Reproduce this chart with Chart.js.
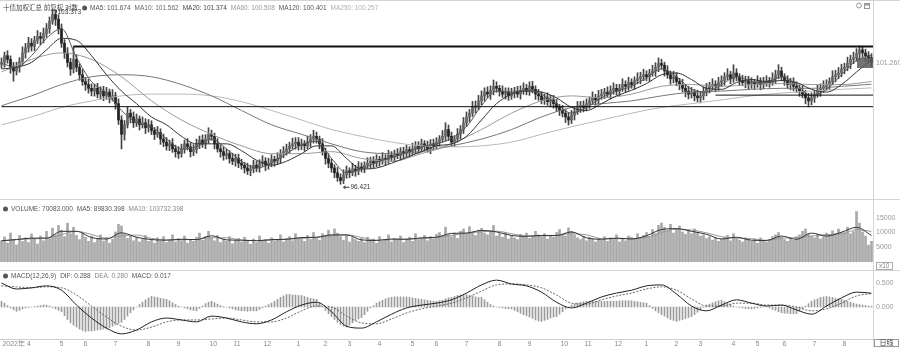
<!DOCTYPE html>
<html lang="zh-CN">
<head>
<meta charset="utf-8">
<title>十债加权汇总 日线</title>
<script src="https://cdn.jsdelivr.net/npm/chart.js"></script>
<style>
  html, body { margin: 0; padding: 0; background: #fff; }
  #board { position: relative; width: 900px; height: 347px; overflow: hidden; }
  #board canvas { position: absolute; left: 0; }
</style>
</head>
<body>
<div id="board">
  <canvas id="priceChart" width="900" height="199" style="top:0"></canvas>
  <canvas id="volChart" width="900" height="71" style="top:199px"></canvas>
  <canvas id="macdChart" width="900" height="77" style="top:270px"></canvas>
</div>
<script>
// 十债加权 日线：K线 + 均线 / 成交量 / MACD
const titleText = '十债加权汇总 前复权 对数';

const openP = [
  101.20,101.27,101.54,101.39,101.08,100.93,101.08,101.31,101.65,101.85,
  102.04,101.92,102.15,102.30,102.23,102.42,102.61,102.91,103.18,102.99,
  102.61,102.04,101.65,101.27,101.01,101.39,101.08,100.78,100.51,100.39,
  100.24,100.13,100.24,100.01,100.13,99.94,100.09,99.86,99.94,99.63,
  98.98,98.41,98.79,99.25,99.10,98.87,99.02,98.79,98.87,98.67,
  98.79,98.56,98.41,98.48,98.22,98.10,97.95,98.03,97.83,97.72,
  97.64,97.83,98.03,97.91,97.72,97.80,98.03,98.18,98.03,98.22,
  98.41,98.33,98.03,97.83,97.72,97.57,97.64,97.45,97.34,97.45,
  97.26,97.18,97.07,96.96,97.03,97.18,97.07,97.26,97.34,97.18,
  97.26,97.41,97.34,97.45,97.64,97.72,97.83,97.95,98.03,98.10,
  97.95,98.03,97.95,98.10,98.22,98.33,98.22,98.03,97.72,97.45,
  97.26,97.07,96.88,96.69,96.57,96.80,96.96,96.88,97.03,96.96,
  97.11,97.07,97.18,97.26,97.34,97.26,97.41,97.34,97.45,97.41,
  97.57,97.49,97.64,97.57,97.72,97.64,97.80,97.72,97.83,97.95,
  97.83,98.03,97.95,97.83,98.03,97.95,98.10,98.22,98.33,98.60,
  98.33,98.10,98.22,98.41,98.60,98.87,99.10,99.25,99.48,99.55,
  99.74,99.94,100.09,100.01,100.16,100.32,100.24,100.13,100.01,100.09,
  99.94,100.05,100.13,100.01,100.16,100.24,100.13,100.32,100.20,100.01,
  99.94,99.78,99.86,99.71,99.78,99.63,99.48,99.36,99.25,99.10,
  98.98,99.17,99.32,99.48,99.55,99.48,99.63,99.74,99.86,99.78,
  99.94,100.01,100.09,100.01,100.16,100.24,100.13,100.24,100.39,100.32,
  100.47,100.39,100.55,100.62,100.70,100.78,100.70,100.85,100.93,101.08,
  101.23,101.16,100.93,100.78,100.62,100.70,100.51,100.39,100.24,100.13,
  100.01,100.09,99.94,99.86,99.94,100.09,100.24,100.32,100.39,100.32,
  100.47,100.55,100.70,100.78,100.62,100.85,100.70,100.55,100.47,100.55,
  100.39,100.47,100.39,100.51,100.39,100.47,100.55,100.47,100.62,100.78,
  100.93,100.70,100.55,100.39,100.47,100.32,100.24,100.13,100.01,99.86,
  99.74,99.86,100.01,100.13,100.24,100.32,100.39,100.51,100.70,100.78,
  100.85,101.01,101.08,101.23,101.39,101.46,101.62,101.77,101.65,101.54,
  101.46
];
const highP = [
  101.45,101.68,101.74,101.53,101.27,101.28,101.46,101.89,102.03,102.27,
  102.22,102.31,102.54,102.46,102.64,102.82,103.08,103.373,103.33,103.17,
  102.80,102.18,101.86,101.43,101.90,101.58,101.21,100.99,100.68,100.60,
  100.42,100.41,100.44,100.30,100.32,100.28,100.21,100.19,100.08,99.82,
  99.15,98.96,99.49,99.40,99.30,99.22,99.14,99.10,99.03,99.00,
  98.95,98.68,98.72,98.63,98.42,98.28,98.18,98.24,97.98,97.92,
  98.02,98.18,98.24,98.06,98.00,98.22,98.34,98.39,98.40,98.67,
  98.58,98.46,98.24,97.98,97.90,97.82,97.76,97.66,97.62,97.62,
  97.42,97.30,97.26,97.18,97.38,97.34,97.40,97.56,97.48,97.46,
  97.60,97.54,97.68,97.80,97.92,98.02,98.10,98.26,98.28,98.28,
  98.22,98.16,98.34,98.40,98.57,98.50,98.34,98.24,97.86,97.64,
  97.42,97.20,97.09,96.84,97.00,97.15,97.08,97.26,97.18,97.32,
  97.28,97.32,97.48,97.50,97.52,97.60,97.54,97.68,97.60,97.78,
  97.72,97.78,97.84,97.88,97.90,97.98,97.92,98.06,98.12,98.12,
  98.22,98.16,98.14,98.20,98.22,98.28,98.36,98.56,98.87,98.78,
  98.50,98.36,98.64,98.76,99.08,99.30,99.40,99.72,99.74,99.96,
  100.14,100.26,100.30,100.34,100.57,100.50,100.36,100.34,100.26,100.26,
  100.24,100.28,100.32,100.34,100.46,100.40,100.50,100.52,100.34,100.20,
  100.10,100.01,100.06,99.96,99.96,99.80,99.60,99.56,99.40,99.28,
  99.36,99.48,99.72,99.72,99.74,99.82,99.90,100.10,100.00,100.16,
  100.20,100.24,100.30,100.34,100.46,100.40,100.40,100.62,100.54,100.68,
  100.62,100.70,100.86,100.88,101.00,100.94,101.00,101.16,101.26,101.45,
  101.40,101.28,101.14,100.93,100.92,100.86,100.64,100.60,100.38,100.32,
  100.28,100.20,100.16,100.12,100.30,100.44,100.48,100.62,100.54,100.68,
  100.74,100.86,101.02,100.92,101.18,101.02,100.82,100.76,100.72,100.72,
  100.66,100.60,100.74,100.66,100.68,100.74,100.68,100.86,100.96,101.18,
  101.08,100.82,100.74,100.64,100.66,100.50,100.36,100.34,100.16,100.04,
  100.06,100.16,100.36,100.42,100.54,100.58,100.66,100.94,100.96,101.07,
  101.20,101.24,101.48,101.56,101.68,101.82,101.93,101.92,101.80,101.70,
  101.62
];
const lowP = [
  101.04,101.08,101.24,100.84,100.52,100.77,100.88,101.19,101.44,101.68,
  101.72,101.74,102.02,101.98,102.05,102.27,102.43,102.79,102.74,102.40,
  101.87,101.43,101.09,100.76,100.85,100.90,100.56,100.36,100.16,100.05,
  99.94,99.93,99.86,99.81,99.75,99.80,99.66,99.74,99.41,98.80,
  97.83,98.18,98.66,98.86,98.68,98.72,98.58,98.66,98.44,98.50,
  98.40,98.20,98.29,98.01,97.92,97.78,97.76,97.69,97.50,97.45,
  97.50,97.66,97.78,97.51,97.56,97.66,97.84,97.89,97.84,98.05,
  98.17,97.83,97.70,97.50,97.38,97.42,97.26,97.20,97.14,97.08,
  97.02,96.87,96.81,96.76,96.88,96.92,96.90,97.14,96.96,97.02,
  97.12,97.14,97.22,97.26,97.48,97.58,97.66,97.82,97.82,97.78,
  97.80,97.74,97.84,97.90,98.06,98.06,97.83,97.58,97.22,97.08,
  96.90,96.68,96.54,96.421,96.45,96.66,96.68,96.76,96.74,96.80,
  96.91,96.88,97.06,97.06,97.08,97.12,97.14,97.22,97.20,97.25,
  97.34,97.32,97.44,97.38,97.46,97.50,97.53,97.60,97.64,97.66,
  97.70,97.76,97.70,97.64,97.78,97.82,97.92,98.10,98.14,98.16,
  97.94,97.92,98.10,98.21,98.44,98.72,98.90,99.12,99.26,99.38,
  99.58,99.74,99.86,99.80,99.98,100.08,99.93,99.88,99.81,99.76,
  99.80,99.86,99.88,99.81,100.00,99.98,99.96,100.06,99.80,99.76,
  99.62,99.60,99.56,99.50,99.45,99.32,99.16,99.10,98.88,98.78,
  98.84,98.98,99.20,99.28,99.30,99.34,99.44,99.62,99.56,99.62,
  99.80,99.83,99.88,99.82,100.00,99.98,99.94,100.12,100.10,100.16,
  100.24,100.20,100.42,100.42,100.54,100.54,100.52,100.72,100.72,100.90,
  101.00,100.73,100.64,100.40,100.46,100.34,100.18,100.10,99.90,99.82,
  99.86,99.74,99.70,99.66,99.78,99.94,100.06,100.20,100.10,100.16,
  100.32,100.36,100.58,100.42,100.48,100.54,100.36,100.34,100.26,100.22,
  100.24,100.20,100.28,100.18,100.22,100.32,100.28,100.36,100.42,100.62,
  100.54,100.36,100.24,100.18,100.14,100.08,99.92,99.86,99.62,99.50,
  99.58,99.68,99.88,99.92,100.08,100.18,100.20,100.38,100.50,100.62,
  100.70,100.82,100.94,101.02,101.22,101.32,101.43,101.50,101.32,101.28,
  101.10
];
const closeP = [
  101.27,101.54,101.39,101.08,100.93,101.08,101.31,101.65,101.85,102.04,
  101.92,102.15,102.30,102.23,102.42,102.61,102.91,103.18,102.99,102.61,
  102.04,101.65,101.27,101.01,101.39,101.08,100.78,100.51,100.39,100.24,
  100.13,100.24,100.01,100.13,99.94,100.09,99.86,99.94,99.63,98.98,
  98.41,98.79,99.25,99.10,98.87,99.02,98.79,98.87,98.67,98.79,
  98.56,98.41,98.48,98.22,98.10,97.95,98.03,97.83,97.72,97.64,
  97.83,98.03,97.91,97.72,97.80,98.03,98.18,98.03,98.22,98.41,
  98.33,98.03,97.83,97.72,97.57,97.64,97.45,97.34,97.45,97.26,
  97.18,97.07,96.96,97.03,97.18,97.07,97.26,97.34,97.18,97.26,
  97.41,97.34,97.45,97.64,97.72,97.83,97.95,98.03,98.10,97.95,
  98.03,97.95,98.10,98.22,98.33,98.22,98.03,97.72,97.45,97.26,
  97.07,96.88,96.69,96.57,96.80,96.96,96.88,97.03,96.96,97.11,
  97.07,97.18,97.26,97.34,97.26,97.41,97.34,97.45,97.41,97.57,
  97.49,97.64,97.57,97.72,97.64,97.80,97.72,97.83,97.95,97.83,
  98.03,97.95,97.83,98.03,97.95,98.10,98.22,98.33,98.60,98.33,
  98.10,98.22,98.41,98.60,98.87,99.10,99.25,99.48,99.55,99.74,
  99.94,100.09,100.01,100.16,100.32,100.24,100.13,100.01,100.09,99.94,
  100.05,100.13,100.01,100.16,100.24,100.13,100.32,100.20,100.01,99.94,
  99.78,99.86,99.71,99.78,99.63,99.48,99.36,99.25,99.10,98.98,
  99.17,99.32,99.48,99.55,99.48,99.63,99.74,99.86,99.78,99.94,
  100.01,100.09,100.01,100.16,100.24,100.13,100.24,100.39,100.32,100.47,
  100.39,100.55,100.62,100.70,100.78,100.70,100.85,100.93,101.08,101.23,
  101.16,100.93,100.78,100.62,100.70,100.51,100.39,100.24,100.13,100.01,
  100.09,99.94,99.86,99.94,100.09,100.24,100.32,100.39,100.32,100.47,
  100.55,100.70,100.78,100.62,100.85,100.70,100.55,100.47,100.55,100.39,
  100.47,100.39,100.51,100.39,100.47,100.55,100.47,100.62,100.78,100.93,
  100.70,100.55,100.39,100.47,100.32,100.24,100.13,100.01,99.86,99.74,
  99.86,100.01,100.13,100.24,100.32,100.39,100.51,100.70,100.78,100.85,
  101.01,101.08,101.23,101.39,101.46,101.62,101.77,101.65,101.54,101.46,
  101.26
];

// 均线：MA10/MA20 每5根取一点，MA60/MA120/MA250 每10根取一点
const ma10 = [
  101.23,101.08,101.54,102.23,102.61,101.46,100.51,100.05,99.36,98.87,
  98.71,98.22,97.83,97.91,98.22,97.83,97.34,97.07,97.26,97.64,
  97.99,98.14,97.45,96.88,97.03,97.30,97.49,97.68,97.91,98.03,
  98.25,98.71,99.55,100.13,100.09,100.16,100.01,99.63,99.25,99.48,
  99.86,100.13,100.32,100.66,101.01,100.70,100.20,100.09,100.39,100.70,
  100.51,100.47,100.70,100.39,99.94,100.20,100.78,101.35,101.562
];
const ma20 = [
  101.01,101.08,101.27,101.77,102.23,102.15,101.54,100.78,100.13,99.63,
  99.10,98.79,98.33,98.03,98.03,98.03,97.76,97.38,97.18,97.34,
  97.64,97.95,97.95,97.45,97.03,97.07,97.26,97.49,97.72,97.95,
  98.03,98.33,98.98,99.63,100.01,100.13,100.09,99.86,99.48,99.36,
  99.63,99.94,100.16,100.43,100.78,100.85,100.59,100.24,100.20,100.47,
  100.59,100.51,100.55,100.47,100.20,100.09,100.39,100.89,101.374
];
const ma60 = [100.89,101.39,101.65,101.39,100.70,99.74,98.98,98.41,97.95,97.64,97.64,97.72,97.45,97.34,97.64,
  98.03,98.60,99.25,99.74,99.94,99.86,100.01,100.32,100.39,100.32,100.39,100.43,100.39,100.39,100.508];
const ma120 = [99.55,99.94,100.39,100.70,100.78,100.70,100.39,99.94,99.36,98.79,98.41,98.03,97.72,97.64,97.72,
  97.95,98.22,98.60,99.10,99.48,99.63,99.74,99.94,100.09,100.13,100.20,100.24,100.24,100.32,100.401];
const ma250 = [98.79,99.10,99.48,99.74,99.94,100.01,100.01,99.94,99.71,99.36,98.98,98.60,98.33,98.10,97.95,
  97.91,97.95,98.10,98.41,98.71,98.98,99.25,99.48,99.63,99.78,99.94,100.05,100.13,100.20,100.257];
const ma5Last = 101.674;

// 画线位
const levelFrom = [24, 0, 238];
const levelPrice = [101.90, 99.51, 99.97];

const volume = [
  72000,85000,64000,98000,76000,58000,90000,70000,82000,66000,
  95000,78000,61000,88000,72000,104000,80000,115000,92000,124000,
  108000,86000,132000,96000,118000,90000,76000,98000,84000,70000,
  88000,66000,79000,92000,71000,83000,64000,77000,102000,128000,
  122000,95000,80000,88000,72000,84000,68000,76000,90000,70000,
  78000,64000,82000,70000,86000,66000,74000,92000,68000,80000,
  72000,88000,64000,76000,70000,84000,98000,74000,86000,104000,
  82000,72000,90000,66000,78000,70000,86000,62000,74000,80000,
  68000,84000,72000,60000,78000,66000,88000,70000,76000,64000,
  82000,70000,74000,92000,68000,80000,86000,72000,96000,78000,
  84000,70000,90000,76000,100000,82000,74000,96000,88000,108000,
  92000,112000,98000,86000,74000,90000,68000,82000,76000,70000,
  80000,66000,84000,72000,78000,64000,86000,70000,74000,92000,
  68000,80000,74000,88000,66000,78000,84000,70000,96000,76000,
  82000,90000,72000,86000,78000,94000,100000,88000,118000,92000,
  86000,98000,80000,104000,112000,96000,120000,102000,90000,108000,
  114000,98000,92000,106000,124000,88000,96000,84000,100000,78000,
  90000,82000,76000,94000,86000,98000,80000,88000,104000,92000,
  86000,96000,78000,90000,84000,100000,110000,94000,88000,116000,
  104000,92000,82000,76000,88000,72000,84000,78000,68000,80000,
  74000,86000,70000,82000,76000,92000,68000,80000,72000,88000,
  84000,78000,96000,82000,90000,100000,86000,110000,96000,124000,
  132000,118000,106000,128000,98000,114000,122000,102000,94000,108000,
  96000,112000,100000,88000,92000,80000,86000,74000,82000,70000,
  78000,84000,90000,72000,96000,80000,74000,68000,82000,76000,
  70000,78000,64000,82000,72000,68000,76000,86000,92000,100000,
  84000,76000,70000,80000,74000,86000,92000,104000,112000,96000,
  88000,82000,94000,78000,86000,98000,90000,106000,96000,112000,
  100000,100000,118000,96000,103000,171000,132000,102000,88000,57000,
  70083
];
const volMa5 = [
  72000,76000,81000,81000,104000,104000,83000,78000,99000,84000,
  76000,74000,77000,76000,89000,75000,74000,72000,76000,77000,
  83000,84000,92000,92000,75000,73000,78000,77000,82000,84000,
  97000,98000,107000,102000,90000,87000,90000,90000,102000,82000,
  77000,81000,78000,89000,110000,113000,104000,94000,78000,84000,
  74000,73000,88000,77000,98000,88000,101000,117600,89830.398
];
const volMa10 = [
  72000,76000,78500,81000,92500,104000,93500,80500,88500,91500,
  80000,75000,75500,76500,82500,82000,74500,73000,74000,76500,
  80000,83500,88000,92000,83500,74000,75500,77500,79500,83000,
  90500,97500,102500,104500,96000,88500,88500,90000,96000,92000,
  79500,79000,79500,83500,99500,111500,108500,99000,86000,81000,
  79000,73500,80500,82500,87500,93000,94500,109300,103732.398
];

// MACD(12,26,9)：DIF/DEA 每5根取一点，柱逐根
const dif = [
  0.50,0.375,0.40,0.44,0.35,0.04,-0.23,-0.44,-0.56,-0.48,
  -0.31,-0.23,-0.27,-0.31,-0.19,-0.23,-0.31,-0.35,-0.27,-0.10,
  0.04,0.10,-0.10,-0.40,-0.44,-0.31,-0.15,-0.02,0.04,0.08,
  0.15,0.29,0.46,0.56,0.48,0.44,0.31,0.10,-0.02,0.08,
  0.21,0.29,0.35,0.44,0.46,0.27,0.02,-0.08,0.04,0.15,
  0.08,0.02,0.04,-0.06,-0.15,0.02,0.19,0.31,0.288
];
const dea = [
  0.44,0.42,0.40,0.42,0.40,0.25,0.02,-0.21,-0.40,-0.48,
  -0.42,-0.31,-0.27,-0.27,-0.25,-0.23,-0.27,-0.31,-0.31,-0.23,
  -0.08,0.02,0.00,-0.19,-0.33,-0.35,-0.25,-0.125,-0.04,0.02,
  0.08,0.19,0.33,0.46,0.48,0.46,0.40,0.25,0.08,0.06,
  0.15,0.23,0.29,0.375,0.42,0.35,0.17,0.02,0.02,0.08,
  0.08,0.04,0.04,0.00,-0.08,-0.04,0.08,0.23,0.280
];
const macdHist = [
  0.12,0.08,0.03,-0.02,-0.06,-0.09,-0.07,-0.04,-0.02,-0.01,
  0.00,0.01,0.02,0.03,0.04,0.04,0.02,-0.01,-0.04,-0.07,
  -0.10,-0.18,-0.26,-0.33,-0.38,-0.42,-0.46,-0.49,-0.51,-0.50,
  -0.50,-0.49,-0.48,-0.47,-0.46,-0.46,-0.43,-0.40,-0.37,-0.34,
  -0.32,-0.26,-0.19,-0.12,-0.06,0.00,0.05,0.10,0.15,0.19,
  0.22,0.21,0.20,0.18,0.17,0.16,0.13,0.09,0.05,0.02,
  0.00,-0.02,-0.04,-0.06,-0.07,-0.08,-0.03,0.02,0.07,0.10,
  0.12,0.09,0.06,0.03,0.01,0.00,-0.02,-0.04,-0.06,-0.07,
  -0.08,-0.08,-0.09,-0.08,-0.08,-0.08,-0.05,-0.02,0.02,0.05,
  0.08,0.12,0.16,0.20,0.23,0.26,0.26,0.25,0.25,0.24,
  0.24,0.22,0.20,0.18,0.17,0.16,0.09,0.01,-0.07,-0.14,
  -0.20,-0.26,-0.32,-0.37,-0.40,-0.42,-0.38,-0.33,-0.28,-0.25,
  -0.22,-0.16,-0.09,-0.02,0.03,0.08,0.11,0.14,0.17,0.19,
  0.20,0.21,0.21,0.21,0.21,0.21,0.20,0.19,0.18,0.17,
  0.16,0.15,0.14,0.13,0.12,0.12,0.13,0.14,0.17,0.19,
  0.20,0.22,0.24,0.25,0.26,0.26,0.24,0.23,0.21,0.20,
  0.20,0.15,0.10,0.05,0.02,0.00,-0.01,-0.02,-0.03,-0.04,
  -0.04,-0.07,-0.10,-0.13,-0.16,-0.18,-0.21,-0.24,-0.27,-0.29,
  -0.30,-0.28,-0.26,-0.23,-0.21,-0.20,-0.15,-0.10,-0.04,0.00,
  0.04,0.06,0.08,0.10,0.11,0.12,0.12,0.12,0.12,0.12,
  0.12,0.12,0.12,0.12,0.12,0.12,0.13,0.13,0.13,0.13,
  0.13,0.12,0.11,0.10,0.09,0.08,0.03,-0.03,-0.08,-0.12,
  -0.16,-0.19,-0.23,-0.26,-0.28,-0.30,-0.28,-0.26,-0.24,-0.22,
  -0.20,-0.16,-0.11,-0.06,-0.01,0.04,0.06,0.09,0.11,0.13,
  0.14,0.11,0.08,0.05,0.02,0.00,-0.01,-0.02,-0.03,-0.04,
  -0.04,-0.03,-0.02,-0.01,0.00,0.00,-0.02,-0.05,-0.07,-0.10,
  -0.12,-0.13,-0.13,-0.14,-0.14,-0.14,-0.09,-0.04,0.02,0.07,
  0.12,0.15,0.17,0.20,0.21,0.22,0.21,0.20,0.18,0.17,
  0.16,0.14,0.12,0.10,0.08,0.06,0.05,0.04,0.03,0.02,
  0.017
];

// 月份起点（K线序号）
const monthStart = [0,19,27,37,48,58,69,77,87,98,107,115,125,136,144,154,165,175,186,194,204,214,224,232,243,251,260,270,280];
const monthText = ['2022年 4','5','6','7','8','9','10','11','12','1','2','3','4','5','6','7','8','9','10','11','12','1','2','3','4','5','6','7','8'];

const N = closeP.length;
const FONT = "'Liberation Sans', 'Noto Sans CJK SC', sans-serif";
const RIGHT_W = 27;
const last = a => a[a.length - 1];

Chart.defaults.font.family = FONT;
Chart.defaults.font.size = 7;
Chart.defaults.animation = false;
Chart.defaults.responsive = false;
Chart.defaults.devicePixelRatio = 1;
Chart.defaults.events = [];
Chart.defaults.plugins.legend.display = false;
Chart.defaults.plugins.tooltip.enabled = false;

const spans = (a, b) => a.map((v, i) => ({x: i, y: [v, b[i]]}));
const sampled = (vals, step) => vals.map((v, k) => ({x: k * step, y: v}));
const perBar = vals => vals.map((v, i) => ({x: i, y: v}));

function timeAxis(show) {
  return {
    type: 'linear', min: -0.5, max: N - 0.5, offset: false, display: show,
    grid: {display: false, drawTicks: false},
    border: {display: show, color: '#cfcfcf'},
    afterBuildTicks: s => { s.ticks = monthStart.map(v => ({value: v + 0.3})); },
    afterFit: s => { s.height = 8; s.paddingLeft = 0; s.paddingRight = 0; },
    ticks: {
      autoSkip: false, maxRotation: 0, minRotation: 0, align: 'start', padding: 1,
      color: '#8a8a8a', font: {size: 7},
      callback: (v, i) => monthText[i]
    }
  };
}

// 右侧数值轴：固定宽度，不为首末标签留边
function valueAxis(min, max, marks, fmt) {
  return {
    position: 'right', min, max,
    grid: {display: false, drawTicks: false}, border: {display: false},
    afterBuildTicks: s => { s.ticks = marks.map(v => ({value: v})); },
    afterFit: s => { s.width = RIGHT_W; s.paddingTop = 0; s.paddingBottom = 0; },
    ticks: {padding: 3, color: '#9a9a9a', font: {size: 7}, callback: fmt}
  };
}

function maLine(label, pts, color, order) {
  return {
    type: 'line', label, data: pts, borderColor: color, borderWidth: 1,
    pointRadius: 0, cubicInterpolationMode: 'monotone', order
  };
}

function frame(chart, withTop) {
  const {ctx, chartArea: a} = chart;
  ctx.save();
  ctx.strokeStyle = '#d4d4d4';
  ctx.lineWidth = 1;
  ctx.beginPath();
  ctx.moveTo(a.right + 0.5, 0);
  ctx.lineTo(a.right + 0.5, chart.height);
  if (withTop) {
    ctx.moveTo(0, 0.5);
    ctx.lineTo(chart.width, 0.5);
  }
  ctx.stroke();
  ctx.restore();
}

function legendRow(ctx, x, y, parts) {
  ctx.font = `6.5px ${FONT}`;
  ctx.textBaseline = 'middle';
  ctx.textAlign = 'left';
  for (const [text, color] of parts) {
    if (text === '●') {
      ctx.fillStyle = '#555';
      ctx.beginPath();
      ctx.arc(x + 2.5, y, 2.5, 0, Math.PI * 2);
      ctx.fill();
      x += 8;
      continue;
    }
    ctx.fillStyle = color;
    ctx.fillText(text, x, y);
    x += ctx.measureText(text).width + 4;
  }
}

const priceText = {
  id: 'priceText',
  afterDraw(chart) {
    const {ctx, chartArea: a} = chart;
    const xs = chart.scales.x, ys = chart.scales.y;
    frame(chart, true);
    ctx.save();
    legendRow(ctx, 3, 8, [
      [titleText, '#444'], ['●'],
      ['MA5: ' + ma5Last.toFixed(3), '#555'],
      ['MA10: ' + last(ma10).toFixed(3), '#666'],
      ['MA20: ' + last(ma20).toFixed(3), '#444'],
      ['MA60: ' + last(ma60).toFixed(3), '#999'],
      ['MA120: ' + last(ma120).toFixed(3), '#555'],
      ['MA250: ' + last(ma250).toFixed(3), '#b0b0b0']
    ]);

    // 最高价标注
    const hi = highP.indexOf(Math.max(...highP));
    let px = xs.getPixelForValue(hi), py = ys.getPixelForValue(highP[hi]);
    ctx.strokeStyle = '#333';
    ctx.lineWidth = 1;
    ctx.beginPath();
    ctx.moveTo(px + 1, py + 0.5);
    ctx.lineTo(px + 4, py + 0.5);
    ctx.lineTo(px + 4, py + 3);
    ctx.stroke();
    ctx.fillStyle = '#333';
    ctx.fillText(highP[hi].toFixed(3), px + 5, py + 3);

    // 最低价标注
    const lo = lowP.indexOf(Math.min(...lowP));
    px = xs.getPixelForValue(lo); py = ys.getPixelForValue(lowP[lo]) + 3;
    ctx.beginPath();
    ctx.moveTo(px + 3, py);
    ctx.lineTo(px + 9, py);
    ctx.moveTo(px + 3, py);
    ctx.lineTo(px + 5, py - 1.5);
    ctx.moveTo(px + 3, py);
    ctx.lineTo(px + 5, py + 1.5);
    ctx.stroke();
    ctx.fillText(lowP[lo].toFixed(3), px + 10, py);

    // 当前价标记
    const cy = ys.getPixelForValue(last(closeP));
    ctx.fillStyle = 'rgba(90,90,90,0.85)';
    ctx.fillRect(a.right - 16, Math.round(cy) - 5, 16, 10);

    // 右上角按钮
    ctx.strokeStyle = '#999';
    ctx.beginPath();
    ctx.arc(859, 5.5, 2.5, 0, Math.PI * 2);
    ctx.stroke();
    ctx.strokeRect(864.5, 3.5, 5, 5);
    ctx.fillStyle = '#999';
    ctx.fillRect(864.5, 3.5, 5, 2);
    ctx.restore();
  }
};

const volText = {
  id: 'volText',
  afterDraw(chart) {
    const {ctx, chartArea: a} = chart;
    frame(chart, true);
    ctx.save();
    legendRow(ctx, 3, 10, [
      ['●'],
      ['VOLUME: ' + last(volume).toFixed(3), '#555'],
      ['MA5: ' + last(volMa5).toFixed(3), '#555'],
      ['MA10: ' + last(volMa10).toFixed(3), '#888']
    ]);
    ctx.strokeStyle = '#aaa';
    ctx.strokeRect(a.right + 3.5, chart.height - 7.5, 16, 7);
    ctx.fillStyle = '#888';
    ctx.font = `6.5px ${FONT}`;
    ctx.textBaseline = 'middle';
    ctx.fillText('x10', a.right + 6, chart.height - 4);
    ctx.restore();
  }
};

const macdText = {
  id: 'macdText',
  afterDraw(chart) {
    const {ctx, chartArea: a} = chart;
    frame(chart, true);
    ctx.save();
    legendRow(ctx, 3, 6, [
      ['●'],
      ['MACD(12,26,9)', '#555'],
      ['DIF: ' + last(dif).toFixed(3), '#555'],
      ['DEA: ' + last(dea).toFixed(3), '#888'],
      ['MACD: ' + last(macdHist).toFixed(3), '#555']
    ]);
    ctx.strokeStyle = '#999';
    ctx.strokeRect(a.right + 1.5, a.bottom + 0.5, 24, chart.height - a.bottom - 1);
    ctx.fillStyle = '#444';
    ctx.font = `7px ${FONT}`;
    ctx.textAlign = 'center';
    ctx.textBaseline = 'middle';
    ctx.fillText('日线', a.right + 13.5, a.bottom + 4.5);
    ctx.restore();
  }
};

// K线 + 均线
new Chart(document.getElementById('priceChart'), {
  type: 'bar',
  data: {
    datasets: [
      ...levelPrice.map((p, k) => ({
        type: 'line', label: 'level' + k,
        data: [{x: levelFrom[k], y: p}, {x: N - 0.5, y: p}],
        borderColor: '#111', borderWidth: k === 0 ? 2 : 1, pointRadius: 0, order: 0
      })),
      maLine('MA10', sampled(ma10, 5), '#555', 2),
      maLine('MA20', sampled(ma20, 5), '#333', 2),
      maLine('MA60', sampled(ma60, 10), '#9a9a9a', 3),
      maLine('MA120', sampled(ma120, 10), '#777', 3),
      maLine('MA250', sampled(ma250, 10), '#b8b8b8', 3),
      {
        label: 'body', data: spans(openP, closeP), grouped: false,
        barThickness: 2, minBarLength: 1, borderWidth: 0,
        backgroundColor: c => closeP[c.dataIndex] >= openP[c.dataIndex] ? '#666' : '#222',
        order: 8
      },
      {
        label: 'wick', data: spans(lowP, highP), grouped: false,
        barThickness: 1, borderWidth: 0, backgroundColor: '#444', order: 9
      }
    ]
  },
  options: {
    layout: {padding: 0},
    scales: {
      x: timeAxis(false),
      y: valueAxis(96.154, 103.755, [last(closeP)], v => v.toFixed(3))
    }
  },
  plugins: [priceText]
});

// 成交量
new Chart(document.getElementById('volChart'), {
  type: 'bar',
  data: {
    datasets: [
      maLine('MA5', sampled(volMa5, 5), '#333', 1),
      maLine('MA10', sampled(volMa10, 5), '#999', 1),
      {
        label: 'VOLUME', data: perBar(volume), grouped: false,
        barThickness: 2, borderWidth: 0, backgroundColor: '#a8a8a8', order: 5
      }
    ]
  },
  options: {
    layout: {padding: 0},
    scales: {
      x: timeAxis(false),
      y: valueAxis(0, 213600, [50000, 100000, 150000], v => String(v / 10))
    }
  },
  plugins: [volText]
});

// MACD
new Chart(document.getElementById('macdChart'), {
  type: 'bar',
  data: {
    datasets: [
      maLine('DIF', sampled(dif, 5), '#222', 1),
      Object.assign(maLine('DEA', sampled(dea, 5), '#666', 1), {borderDash: [2, 1.5]}),
      {
        label: 'MACD', data: perBar(macdHist), grouped: false,
        barThickness: 1, borderWidth: 0, backgroundColor: '#9a9a9a', order: 5
      }
    ]
  },
  options: {
    layout: {padding: 0},
    scales: {
      x: timeAxis(true),
      y: valueAxis(-0.667, 0.771, [0, 0.5], v => v.toFixed(3))
    }
  },
  plugins: [macdText]
});
</script>
</body>
</html>
